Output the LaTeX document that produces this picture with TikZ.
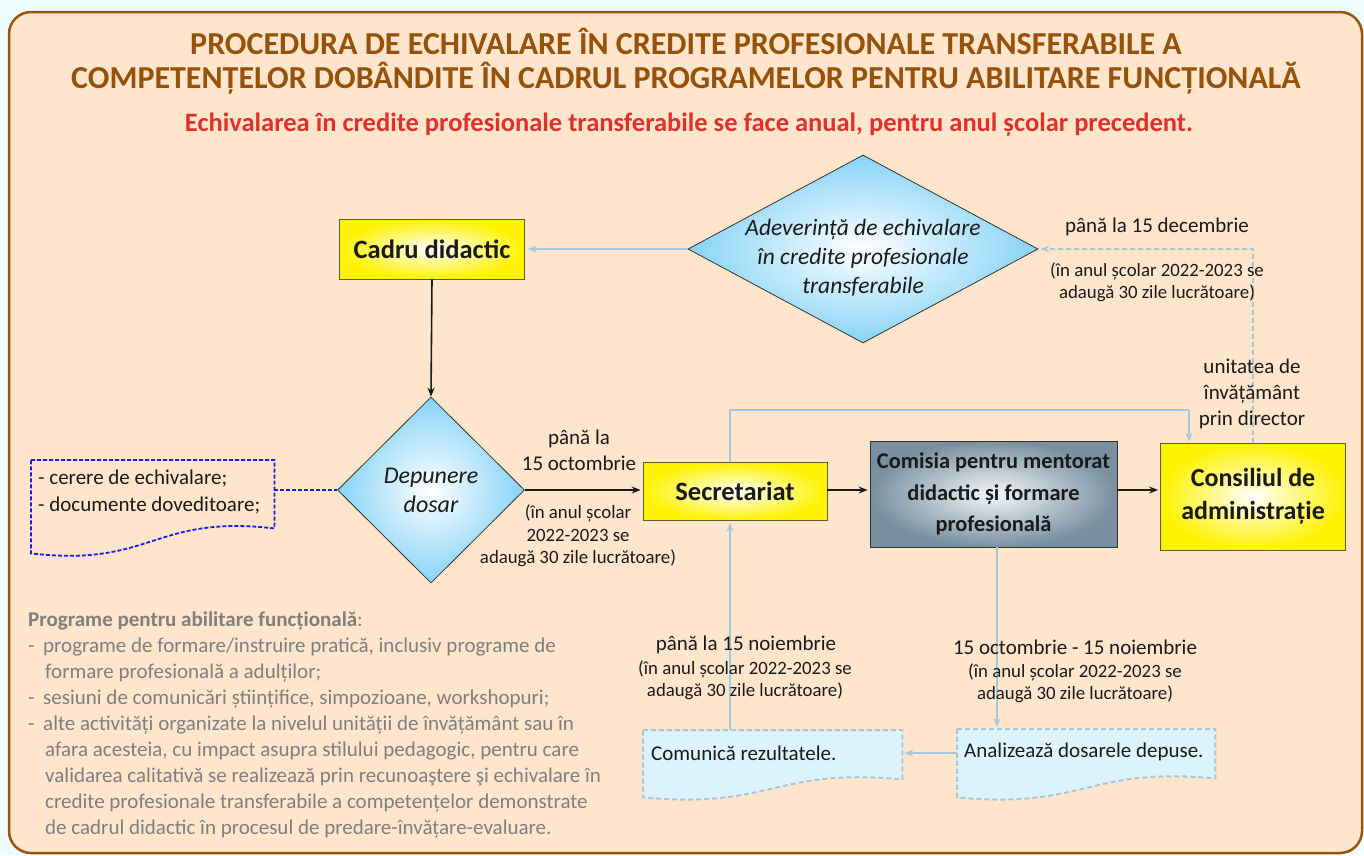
\documentclass[tikz,border=0pt]{standalone}
\usepackage{fontspec}
\setmainfont{Carlito}
\usetikzlibrary{shapes.geometric,arrows.meta,calc}
\definecolor{bgc}{HTML}{EEFDFD}
\definecolor{framefill}{HTML}{FFE5CC}
\definecolor{framec}{HTML}{99540A}
\definecolor{titlec}{HTML}{96520A}
\definecolor{redc}{HTML}{E2302A}
\definecolor{lblue}{HTML}{A4C8DA}
\definecolor{docfill}{HTML}{DDF4FF}
\definecolor{grayc}{HTML}{7F7F7F}
\definecolor{bluedash}{HTML}{1A1AEE}
\definecolor{txt}{HTML}{1A1A1A}
\definecolor{yel}{HTML}{FFF200}
\definecolor{diab}{HTML}{86D3F7}
\definecolor{slate}{HTML}{7890A0}
\definecolor{olive}{HTML}{5E5E2A}
\tikzset{
  ybox/.style={rectangle, draw=olive, line width=0.8pt, inner color=white, outer color=yel, text=txt, font=\fontsize{26.5}{32}\selectfont\bfseries, align=center},
  dia/.style={diamond, draw=black!80, line width=0.8pt, inner sep=0pt, inner color=white, outer color=diab},
  diatext/.style={text=txt, align=center, inner sep=0pt, font=\fontsize{23.5}{29}\selectfont\itshape},
  gbox/.style={rectangle, draw=black!80, line width=0.8pt, inner color=white!92!slate, outer color=slate, text=txt, align=center, font=\fontsize{22.4}{31.5}\selectfont\bfseries},
  blk/.style={-{Stealth[length=9pt,width=7pt]}, line width=1.6pt, draw=txt},
  lbl/.style={-{Stealth[length=9pt,width=7pt]}, line width=2pt, draw=lblue},
  lbld/.style={lbl, dash pattern=on 5pt off 3pt},
  docs/.style={draw=lblue, fill=docfill, line width=2pt, dash pattern=on 5pt off 3pt},
  ldocs/.style={draw=bluedash, line width=1.8pt, dash pattern=on 4pt off 2pt},
  holder/.style={rectangle, draw=none, inner sep=0pt},
  lab/.style={text=txt, align=center, inner sep=0pt, font=\fontsize{21}{26}\selectfont},
  slab/.style={text=txt, align=center, inner sep=0pt, font=\fontsize{18.8}{22.5}\selectfont},
}
\begin{document}
\begin{tikzpicture}[x=1pt,y=-1pt]
\useasboundingbox (0,0) rectangle (1364,855);
\fill[bgc] (0,0) rectangle (1364,855);
\draw[framec, fill=framefill, line width=2.5pt, rounded corners=22pt] (9,12) rectangle (1362,853);

% titles
\node[inner sep=0pt, text=titlec, font=\fontsize{32}{38}\selectfont\bfseries] (t1) at (686,41) {PROCEDURA DE ECHIVALARE ÎN CREDITE PROFESIONALE TRANSFERABILE A};
\node[inner sep=0pt, text=titlec, font=\fontsize{32}{38}\selectfont\bfseries] (t2) at (686,78) {COMPETENȚELOR DOBÂNDITE ÎN CADRUL PROGRAMELOR PENTRU ABILITARE FUNCȚIONALĂ};
\node[inner sep=0pt, text=redc, font=\fontsize{26.5}{31}\selectfont\bfseries] (sub) at (689,125) {Echivalarea în credite profesionale transferabile se face anual, pentru anul școlar precedent.};

% main nodes
\node[ybox, minimum width=185, minimum height=60] (cadru) at (432,249) {Cadru didactic};
\node[dia, aspect=1.86, minimum width=350, minimum height=188] (adev) at (863,249) {};
\node[diatext] (adevt) at ([yshift=-9pt]adev.center) {Adeverință de echivalare\\în credite profesionale\\transferabile};
\node[dia, aspect=1, minimum width=187, minimum height=186] (dep) at (431,490) {};
\node[diatext, font=\fontsize{24}{29}\selectfont\itshape] (dept) at (dep) {Depunere\\dosar};
\node[ybox, minimum width=184, minimum height=58] (sec) at (735,491.5) {Secretariat};
\node[gbox, minimum width=247, minimum height=106] (comi) at (993.5,494) {Comisia pentru mentorat\\didactic și formare\\profesională};
\node[ybox, minimum width=185, minimum height=107, font=\fontsize{26}{33}\selectfont\bfseries] (cons) at (1253,496.5) {Consiliul de\\administrație};

% document holders
\node[holder, anchor=north west, minimum width=243, minimum height=68] (ldoc) at (31,460) {};
\node[holder, anchor=north west, minimum width=259, minimum height=49] (comu) at (643,730) {};
\node[holder, anchor=north west, minimum width=258, minimum height=49] (ana) at (957,729) {};

% document shapes
\draw[ldocs] (ldoc.north west) -- (ldoc.north east) -- (ldoc.south east)
  .. controls ($(ldoc.south west)!0.5!(ldoc.south east)+(0,-14)$) and ($(ldoc.south west)!0.5!(ldoc.south east)+(0,39)$) .. ($(ldoc.south west)+(0,25)$) -- cycle;
\draw[docs] (comu.north west) -- (comu.north east) -- (comu.south east)
  .. controls ($(comu.south west)!0.5!(comu.south east)+(0,-12)$) and ($(comu.south west)!0.5!(comu.south east)+(0,30)$) .. ($(comu.south west)+(0,18)$) -- cycle;
\draw[docs] (ana.north west) -- (ana.north east) -- (ana.south east)
  .. controls ($(ana.south west)!0.5!(ana.south east)+(0,-12)$) and ($(ana.south west)!0.5!(ana.south east)+(0,31)$) .. ($(ana.south west)+(0,19)$) -- cycle;

\node[anchor=west, inner sep=0pt, text=txt, align=left, font=\fontsize{21}{27}\selectfont] (ldoct) at (38,492.5) {- cerere de echivalare;\\- documente doveditoare;};
\node[anchor=west, inner sep=0pt, text=txt, font=\fontsize{21}{25}\selectfont] (comut) at (651,753) {Comunică rezultatele.};
\node[anchor=west, inner sep=0pt, text=txt, font=\fontsize{21}{25}\selectfont] (anat) at (964,752) {Analizează dosarele depuse.};

% connectors
\coordinate (ctop) at (1189,410);
\draw[lbl, shorten >=3pt] (adev.west) -- (cadru.east);
\draw[blk] (cadru.south) -- (dep.north);
\draw[blk, shorten >=2pt] (dep.east |- 0,490) -- (sec.west |- 0,490);
\draw[blk, shorten >=2pt] (sec.east |- 0,490) -- (comi.west |- 0,490);
\draw[blk, shorten >=2pt] (comi.east |- 0,490) -- (cons.west |- 0,490);
\draw[lbl, -] ([xshift=-5pt]sec.north) |- (ctop);
\draw[lbl, shorten >=1pt] (ctop) -- (ctop |- cons.north);
\draw[lbld, shorten >=2pt] (cons.north) |- (adev.east);
\draw[lbl, shorten >=2pt] (comi.south -| 997,0) -- (ana.north -| 997,0);
\draw[lbl, shorten >=2pt] (ana.west |- 0,753) -- (comu.east |- 0,753);
\draw[lbl, shorten >=2pt] ([xshift=-5pt]comu.north -| sec.south) -- ([xshift=-5pt]sec.south);
\draw[ldocs] (ldoc.east |- dep.west) -- (dep.west);

% labels
\node[lab] (l1) at (579,450) {până la\\15 octombrie};
\node[slab] (l2) at (578,536) {(în anul școlar\\2022-2023 se\\adaugă 30 zile lucrătoare)};
\node[lab] (l3) at (1157,227) {până la 15 decembrie};
\node[slab] (l4) at (1157,282) {(în anul școlar 2022-2023 se\\adaugă 30 zile lucrătoare)};
\node[lab] (l5) at (1252,394) {unitatea de\\învățământ\\prin director};
\node[lab] (l6) at (746,645) {până la 15 noiembrie};
\node[slab] (l7) at (745,680) {(în anul școlar 2022-2023 se\\adaugă 30 zile lucrătoare)};
\node[lab] (l8) at (1075,647) {15 octombrie - 15 noiembrie};
\node[slab] (l9) at (1075,683) {(în anul școlar 2022-2023 se\\adaugă 30 zile lucrătoare)};

% bottom-left text
\node[anchor=north west, inner sep=0pt, text=grayc, align=left, font=\fontsize{21}{26}\selectfont] (prog) at (28,612) {%
\textbf{Programe pentru abilitare funcțională}:\\
\makebox[15pt][l]{-}programe de formare/instruire pratică, inclusiv programe de\\
\hspace*{17pt}formare profesională a adulților;\\
\makebox[15pt][l]{-}sesiuni de comunicări științifice, simpozioane, workshopuri;\\
\makebox[15pt][l]{-}alte activități organizate la nivelul unității de învățământ sau în\\
\hspace*{17pt}afara acesteia, cu impact asupra stilului pedagogic, pentru care\\
\hspace*{17pt}validarea calitativă se realizează prin recunoaştere şi echivalare în\\
\hspace*{17pt}credite profesionale transferabile a competențelor demonstrate\\
\hspace*{17pt}de cadrul didactic în procesul de predare-învățare-evaluare.};
\end{tikzpicture}
\end{document}
